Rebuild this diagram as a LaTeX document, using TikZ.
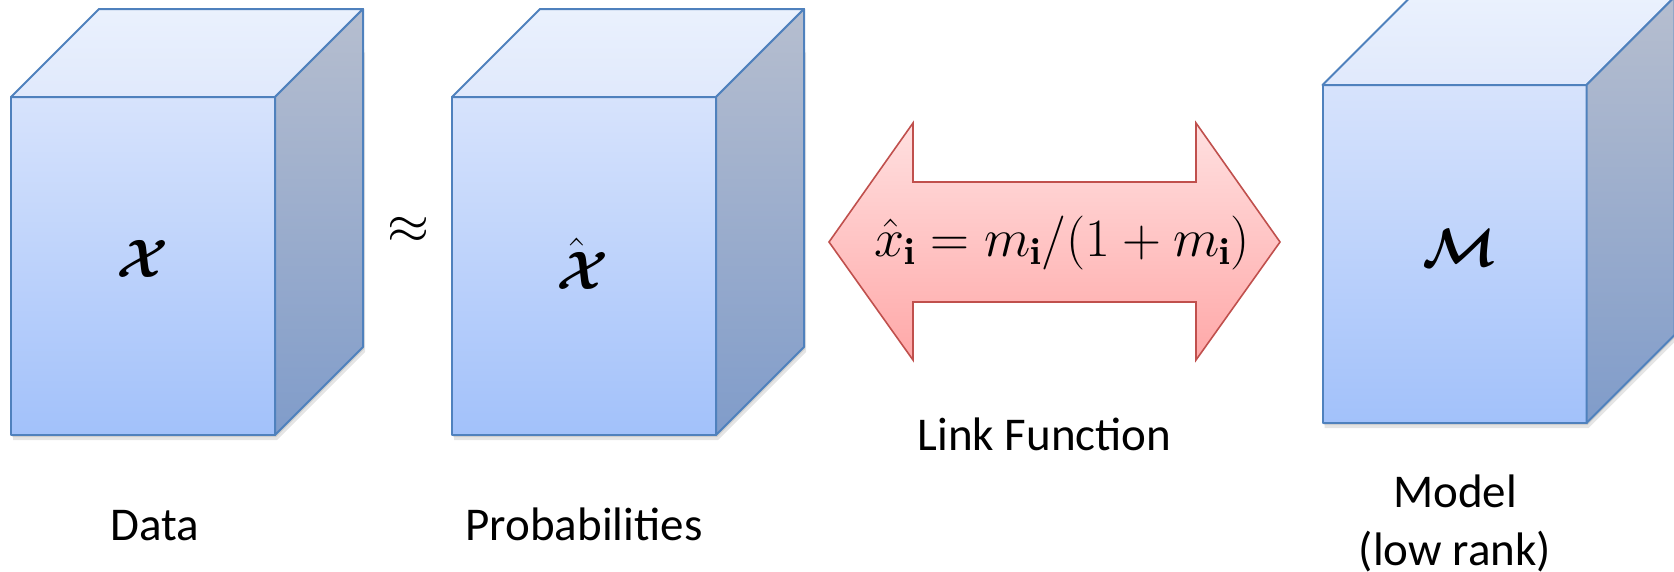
\RequirePackage{fix-cm}
\documentclass[tikz,border=0pt]{standalone}
\usepackage{fontspec}
\newfontfamily\calibri{Carlito}
\usepackage{amsmath}
\usetikzlibrary{calc}
\definecolor{cubeline}{RGB}{79,129,189}
\definecolor{frontTop}{RGB}{215,227,252}
\definecolor{frontBot}{RGB}{162,193,250}
\definecolor{topTop}{RGB}{234,241,253}
\definecolor{topBot}{RGB}{224,233,252}
\definecolor{sideTop}{RGB}{182,190,207}
\definecolor{sideBot}{RGB}{128,156,202}
\definecolor{arrowline}{RGB}{192,80,77}
\definecolor{arrowTop}{RGB}{255,224,224}
\definecolor{arrowBot}{RGB}{255,168,168}
\tikzset{
  frontface/.style={draw=cubeline, line width=2pt, top color=frontTop, bottom color=frontBot,
    minimum width=264pt, minimum height=338pt, inner sep=0pt, outer sep=0pt, line join=round},
  topface/.style={draw=cubeline, line width=2pt, top color=topTop, bottom color=topBot, line join=round},
  sideface/.style={draw=cubeline, line width=2pt, top color=sideTop, bottom color=sideBot, line join=round},
  cubeshadow/.style={fill=black, opacity=0.10},
  mth/.style={font=\fontsize{54}{60}\selectfont, inner sep=0pt},
  lbl/.style={font=\calibri\fontsize{47}{56}\selectfont, anchor=base, inner sep=0pt},
  linkarrow/.style={draw=arrowline, line width=1.6pt, top color=arrowTop, bottom color=arrowBot, line join=miter}
}
\newcommand\drawcube[3]{%
  \fill[cubeshadow] ($(#2,#3)+(-132+2,169+5)$) -- ++(264,0) -- ++(88,-88) -- ++(0,-300) -- ++(-88,88) -- ++(-264,0) -- cycle;
  \fill[cubeshadow] ($(#2,#3)+(-132+1,169+2)$) -- ++(264,0) -- ++(88,-88) -- ++(0,-300) -- ++(-88,88) -- ++(-264,0) -- cycle;
  \node[frontface] (#1) at (#2,#3) {};
  \path[topface] (#1.north west) -- ++(88,-88) -- ++(264,0) -- (#1.north east) -- cycle;
  \path[sideface] (#1.north east) -- ++(88,-88) -- ++(0,338) -- (#1.south east) -- cycle;
}
\begin{document}
\begin{tikzpicture}[x=1pt,y=-1pt]
\useasboundingbox (0,0) rectangle (1674,571);
\clip (0,0) rectangle (1674,571);
% cubes
\drawcube{data}{143}{266}
\drawcube{prob}{584}{266}
\drawcube{model}{1454.5}{254}
% symbols
\node[mth, anchor=base] (datasym) at (142.5,277) {$\boldsymbol{\mathcal{X}}$};
\node[mth, anchor=base] (probsym) at (583,289) {$\skew{-4}{\hat}{\boldsymbol{\mathcal{X}}}$};
\node[mth, anchor=base] (modelsym) at (1460,266) {$\boldsymbol{\mathcal{M}}$};
\node[mth] (approx) at (408,230) {$\approx$};
% link arrow
\path[linkarrow] (829,242) -- (913,123) -- (913,182) -- (1196,182) -- (1196,123) -- (1280,242)
  -- (1196,360) -- (1196,302) -- (913,302) -- (913,360) -- cycle;
\node[mth] (formula) at (1062,243) {$\hat{x}_{\mathbf{i}} = m_{\mathbf{i}}/(1+m_{\mathbf{i}})$};
% labels
\node[lbl] (datalbl) at (154.5,540) {Data};
\node[lbl] (problbl) at (584,540) {Probabilities};
\node[lbl] (linklbl) at (1044.5,450) {Link Function};
\node[lbl] (modellbl) at (1455,507) {Model};
\node[lbl] (ranklbl) at (1455,565) {(low rank)};
\end{tikzpicture}
\end{document}
